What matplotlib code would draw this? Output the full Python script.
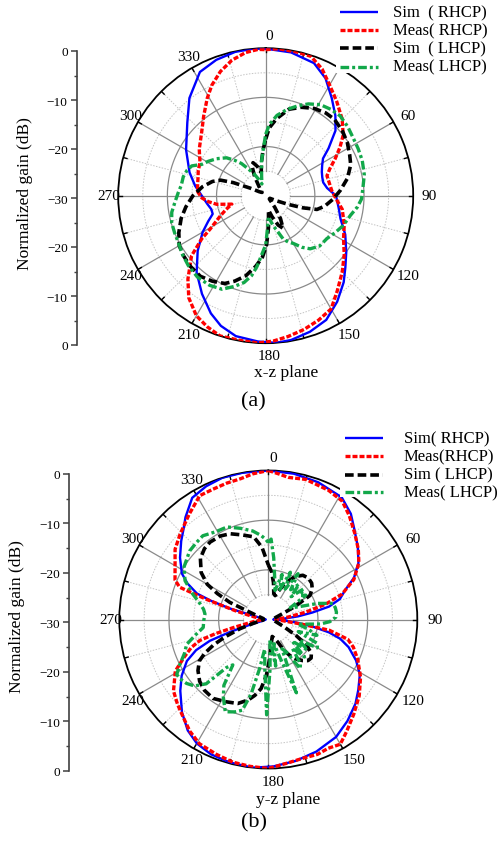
import numpy as np
import matplotlib
matplotlib.use("Agg")
import matplotlib.pyplot as plt
from matplotlib.transforms import offset_copy
from matplotlib.patches import Rectangle

plt.rcParams['font.family'] = ['Liberation Serif', 'DejaVu Serif']
plt.rcParams['axes.unicode_minus'] = True

# ---------------- data ----------------
angle_ticks = [0, 30, 60, 90, 120, 150, 180, 210, 240, 270, 300, 330]
gain_tick_pos = [0, 10, 20, 30, 40, 50, 60]
gain_tick_labels = ['0', '\u221210', '\u221220', '\u221230', '\u221220', '\u221210', '0']
legend_labels_xz = ['Sim  ( RHCP)', 'Meas( RHCP)', 'Sim  ( LHCP)', 'Meas( LHCP)']
legend_labels_yz = ['Sim( RHCP)', 'Meas(RHCP)', 'Sim ( LHCP)', 'Meas( LHCP)']
plane_labels = ['x-z plane', 'y-z plane']
panel_labels = ['(a)', '(b)']
axis_title = 'Normalized gain (dB)'

# (a) x-z plane
xz_sim_rhcp_deg = [0, 10, 20, 27, 34, 41, 47, 53, 57, 62, 67, 72, 77, 83, 90, 100, 107, 116, 125, 132,
                   138, 146, 154, 162, 170, 176, 183, 192, 199, 205, 213, 222, 231, 240, 246, 251, 256, 262, 270, 278,
                   287, 300, 313, 322, 332, 340, 348, 355]
xz_sim_rhcp_db = [-0.1, -0.4, -1.3, -3.2, -6.0, -8.4, -10.6, -14.0, -16.1, -17.0, -17.6, -17.9, -18.0, -17.4, -15.7, -14.9, -14.1, -12.0, -10.0, -8.2,
                  -6.3, -4.0, -1.9, -0.9, -0.2, 0.0, -0.3, -0.8, -2.0, -3.6, -6.2, -9.0, -12.2, -15.2, -17.2, -18.6, -18.6, -18.0, -17.0, -15.5,
                  -13.8, -11.3, -8.2, -4.8, -1.5, -0.6, -0.1, 0.0]

xz_meas_rhcp_deg = [0, 5, 12, 18, 24, 30, 37, 45, 52, 57, 62, 67, 72, 79, 86, 93, 100, 110, 119, 127,
                    135, 143, 150, 157, 164, 171, 177, 183, 190, 198, 204, 210, 217, 223, 231, 236, 239, 246, 251, 256,
                    260, 264, 268, 273, 278, 284, 290, 297, 305, 315, 322, 329, 334, 340, 346, 352, 357]
xz_meas_rhcp_db = [-0.3, 0.0, -0.1, -0.2, -1.8, -4.0, -6.0, -8.0, -10.0, -12.0, -14.0, -15.8, -16.9, -16.8, -16.5, -15.6, -14.2, -13.0, -11.9, -10.0,
                   -8.0, -5.8, -3.4, -2.5, -1.7, -1.0, -0.4, 0.0, -0.1, 0.0, -0.8, -1.8, -4.0, -6.8, -10.6, -14.3, -16.8, -19.9, -21.5, -22.9,
                   -19.9, -18.3, -17.0, -16.2, -16.0, -15.8, -15.4, -15.0, -13.5, -11.6, -9.5, -6.9, -5.0, -3.1, -1.6, -0.6, -0.2]

xz_sim_lhcp_deg = [0, 3, 8, 15, 22, 29, 36, 42, 50, 57, 64, 70, 78, 86, 93, 100, 105, 108, 111, 115,
                   122, 132, 142, 147, 152, 157, 163, 169, 175, 179, 183, 188, 194, 200, 205, 212, 219, 227, 234, 240,
                   247, 255, 262, 270, 278, 285, 289, 292, 296, 302, 312, 322, 330, 335, 339, 344, 349, 353, 357]
xz_sim_lhcp_db = [-18.5, -16.2, -14.2, -11.8, -10.6, -9.7, -9.2, -9.1, -9.6, -10.2, -11.0, -11.6, -13.0, -14.8, -16.3, -17.8, -19.2, -22.0, -25.0, -27.5,
                  -29.0, -29.0, -27.0, -24.5, -22.5, -23.5, -25.5, -27.0, -23.5, -20.0, -17.5, -15.5, -13.2, -11.5, -10.3, -9.5, -8.9, -9.0, -9.3, -9.7,
                  -10.8, -12.2, -13.6, -15.2, -17.0, -18.8, -20.3, -22.9, -26.5, -28.5, -29.0, -28.0, -25.5, -23.5, -22.8, -23.8, -25.2, -23.0, -20.5]

xz_meas_lhcp_deg = [0, 3, 8, 14, 20, 25, 31, 37, 43, 50, 57, 63, 70, 78, 86, 92, 97, 103, 111, 118,
                    125, 133, 140, 145, 150, 154, 158, 162, 166, 170, 174, 177, 180, 183, 187, 190, 194, 199, 205, 212,
                    220, 228, 235, 241, 248, 254, 260, 266, 272, 277, 283, 288, 292, 296, 301, 307, 314, 319, 323, 327,
                    332, 337, 342, 348, 353, 357]
xz_meas_lhcp_db = [-17.5, -15.5, -13.5, -11.9, -10.5, -9.4, -8.4, -8.0, -7.8, -8.2, -8.7, -8.9, -9.1, -9.5, -10.2, -10.5, -11.2, -12.3, -13.1, -14.0,
                   -14.8, -15.0, -15.9, -17.2, -18.8, -19.5, -20.5, -22.5, -23.7, -25.0, -25.2, -23.2, -20.0, -18.5, -15.5, -13.5, -11.8, -10.5, -9.0, -8.5,
                   -8.4, -8.8, -9.3, -9.8, -10.0, -10.1, -10.6, -11.5, -12.2, -12.7, -12.8, -13.2, -13.8, -15.5, -16.4, -17.5, -18.9, -20.5, -21.8, -23.5,
                   -25.0, -26.4, -27.5, -26.0, -23.0, -20.5]

# (b) y-z plane
yz_sim_rhcp_deg = [0, 10, 20, 31, 38, 44, 51, 58, 64, 69, 74, 78, 81, 84, 87, 90, 93, 96, 99, 102,
                   105, 109, 115, 121, 128, 134, 142, 150, 160, 169, 178, 186, 195, 203, 210, 216, 223, 231, 237, 243,
                   247, 250, 252, 254, 258, 270, 281, 284, 286, 288, 290, 294, 298, 305, 312, 317, 321, 328, 335, 342, 350]
yz_sim_rhcp_db = [0.0, -0.2, -0.6, -1.3, -3.0, -5.0, -6.8, -8.6, -10.8, -13.4, -15.0, -17.5, -21.0, -24.0, -27.0, -29.0, -27.0, -24.5, -21.0, -17.5,
                  -15.0, -12.9, -10.5, -8.5, -7.0, -5.6, -4.1, -2.7, -1.7, -1.0, -0.4, 0.0, -0.2, -0.5, -1.2, -2.4, -4.5, -7.2, -9.2, -11.6,
                  -14.2, -17.5, -22.0, -26.0, -29.0, -29.5, -28.5, -26.9, -22.0, -18.0, -14.7, -12.2, -10.3, -8.3, -6.4, -5.0, -3.5, -1.1, -0.4, 0.0, 0.0]

yz_meas_rhcp_deg = [0, 4, 8, 15, 25, 32, 38, 45, 52, 58, 65, 71, 75, 79, 83, 87, 91, 95, 98, 100,
                    104, 108, 114, 122, 130, 138, 145, 150, 155, 160, 166, 173, 180, 187, 194, 201, 209, 215, 221, 227,
                    233, 241, 246, 250, 253, 255, 257, 262, 270, 278, 282, 285, 288, 290, 293, 301, 307, 314, 323, 331,
                    337, 343, 349, 354]
yz_meas_rhcp_db = [0.0, -0.6, -1.1, -0.8, -1.3, -1.9, -3.5, -5.4, -7.0, -8.5, -11.0, -14.3, -18.0, -22.4, -26.0, -28.0, -28.5, -27.0, -23.0, -17.5,
                   -13.5, -12.0, -10.3, -8.1, -6.1, -4.3, -2.5, -1.0, -1.4, -1.1, -1.2, -0.8, 0.0, -0.2, -0.4, -0.9, -1.4, -2.5, -3.9, -5.0,
                   -6.1, -8.6, -11.5, -13.5, -15.6, -19.0, -22.8, -27.0, -29.0, -28.0, -26.2, -23.0, -17.0, -11.0, -9.6, -8.1, -6.5, -5.3, -3.5, -1.5,
                   -1.5, -1.3, -1.1, -0.5]

yz_sim_lhcp_deg = [0, 4, 8, 12, 16, 21, 26, 32, 38, 44, 50, 55, 60, 64, 68, 75, 90, 105, 115, 120,
                   124, 128, 132, 136, 140, 145, 149, 153, 157, 162, 167, 172, 177, 182, 186, 190, 194, 200, 207, 215,
                   222, 228, 234, 239, 242, 245, 248, 252, 256, 265, 280, 290, 294, 297, 300, 305, 312, 318, 323, 330,
                   336, 343, 350, 355, 358]
yz_sim_lhcp_db = [-19.0, -20.4, -22.5, -24.7, -25.0, -23.5, -21.6, -19.8, -18.7, -18.4, -18.6, -19.2, -20.3, -24.0, -27.0, -28.5, -29.0, -28.5, -26.5, -23.5,
                  -20.7, -19.0, -18.4, -18.5, -19.2, -20.3, -21.5, -23.0, -25.0, -26.0, -26.5, -25.4, -22.7, -18.7, -16.0, -14.5, -13.3, -12.0, -11.4, -10.6,
                  -10.8, -11.4, -12.5, -13.8, -15.5, -17.8, -20.5, -24.0, -27.0, -29.0, -29.0, -27.0, -21.5, -18.5, -15.8, -13.5, -11.6, -10.8, -10.5, -10.6,
                  -11.1, -12.2, -13.1, -15.4, -17.8]

yz_meas_lhcp_deg = [0, 2, 5, 9, 13, 17, 21, 25, 29, 33, 37, 41, 45, 49, 53, 57, 62, 67, 72, 76,
                    80, 84, 88, 92, 95, 99, 103, 108, 112, 116, 120, 124, 128, 132, 136, 140, 144, 147, 151, 155,
                    159, 163, 167, 171, 175, 178, 181, 184, 187, 190, 193, 196, 200, 205, 210, 214, 218, 221, 224, 228,
                    232, 236, 239, 243, 248, 253, 258, 263, 269, 275, 279, 283, 289, 295, 302, 311, 317, 322, 329, 336,
                    343, 350, 355, 358]
yz_meas_lhcp_db = [-14.5, -13.8, -17.5, -21.7, -24.0, -20.5, -23.5, -19.5, -23.0, -19.0, -22.5, -20.6, -23.5, -20.6, -22.0, -21.0, -25.0, -23.5, -19.5, -16.6,
                   -16.3, -16.2, -16.4, -17.6, -19.5, -24.0, -22.0, -19.7, -23.5, -19.0, -18.6, -22.5, -20.0, -23.5, -19.5, -22.5, -19.0, -18.2, -22.5, -23.5,
                   -14.2, -22.0, -25.0, -20.5, -26.0, -20.0, -10.8, -20.0, -24.0, -20.0, -14.6, -11.0, -10.2, -9.5, -11.9, -14.0, -18.4, -17.2, -12.0, -10.0,
                   -9.1, -8.6, -8.5, -10.0, -11.8, -12.8, -15.0, -16.8, -17.0, -17.2, -16.8, -15.9, -13.8, -11.5, -10.0, -9.0, -8.8, -8.6, -9.4, -9.6,
                   -10.8, -11.9, -13.0, -13.8]

# ---------------- figure ----------------
W, H = 497, 845
fig = plt.figure(figsize=(W / 100, H / 100), dpi=100)
fig.patch.set_facecolor('white')

styles = [
    dict(color='#0000ff', lw=1.7, linestyle='-'),
    dict(color='#ff0000', lw=2.4, dashes=(1.5, 0.6)),
    dict(color='#000000', lw=2.6, dashes=(2.4, 1.1)),
    dict(color='#12a84a', lw=2.4, dashes=(2.6, 0.9, 0.9, 0.9)),
]


def polar_panel(cx, cy, R, curves, xshift):
    ax = fig.add_axes([(cx - R) / W, (H - cy - R) / H, 2 * R / W, 2 * R / H], projection='polar')
    ax.set_theta_zero_location('N')
    ax.set_theta_direction(-1)
    ax.set_ylim(-30, 0)
    ax.set_xticks([])
    ax.set_yticks([])
    ax.grid(False)
    ax.spines['polar'].set_linewidth(1.3)
    ax.spines['polar'].set_color('black')
    ring_t = np.linspace(0, 2 * np.pi, 721)
    for lev in (-25, -15, -5):
        ax.plot(ring_t, np.full_like(ring_t, lev), color='#c4c4c4', lw=0.7, ls=(0, (1.5, 1.5)), zorder=1)
    for lev in (-20, -10):
        ax.plot(ring_t, np.full_like(ring_t, lev), color='#8a8a8a', lw=0.9, zorder=1)
    for a in range(0, 360, 30):
        ax.plot([np.deg2rad(a)] * 2, [-25, 0], color='#8a8a8a', lw=0.9, zorder=1)
    for a in range(15, 360, 30):
        ax.plot([np.deg2rad(a)] * 2, [-25, 0], color='#c4c4c4', lw=0.7, ls=(0, (1.5, 1.5)), zorder=1)
    for a in range(0, 360, 15):
        ax.plot([np.deg2rad(a)] * 2, [-0.8, 0], color='black', lw=1.0, zorder=2)
    for (deg, gain), st in zip(curves, styles):
        t = np.deg2rad(np.append(deg, deg[0] + 360))
        g = np.append(gain, gain[0])
        ax.plot(t, g, zorder=3, solid_capstyle='butt', dash_capstyle='butt', **st)
    tr = offset_copy(ax.transData, fig=fig, x=xshift, y=0, units='dots')
    for a in angle_ticks:
        ax.text(np.deg2rad(a), 2.6, str(a), transform=tr, ha='center', va='center', fontsize=11)
    return ax


def gain_axis(x, ytop, ybot, lab_x, lab_y):
    ax = fig.add_axes([x / W, (H - ybot) / H, 0.002, (ybot - ytop) / H])
    ax.patch.set_visible(False)
    for s in ('top', 'right', 'bottom'):
        ax.spines[s].set_visible(False)
    ax.spines['left'].set_color('#404040')
    ax.spines['left'].set_linewidth(1.2)
    ax.set_xticks([])
    ax.set_ylim(gain_tick_pos[0], gain_tick_pos[-1])
    ax.set_yticks(gain_tick_pos)
    ax.set_yticklabels(gain_tick_labels)
    ax.set_yticks(np.arange(5, 60, 10), minor=True)
    ax.tick_params(axis='y', which='major', direction='out', length=4.2, width=1.1,
                   color='#404040', labelsize=9.5, pad=2.5)
    ax.tick_params(axis='y', which='minor', direction='out', length=2.4, width=1.0, color='#404040')
    fig.text(lab_x / W, 1 - lab_y / H, axis_title, rotation=90, ha='center', va='center', fontsize=12.5)


polar_panel(265.7, 196.7, 147.5,
            [(xz_sim_rhcp_deg, xz_sim_rhcp_db), (xz_meas_rhcp_deg, xz_meas_rhcp_db),
             (xz_sim_lhcp_deg, xz_sim_lhcp_db), (xz_meas_lhcp_deg, xz_meas_lhcp_db)], 3.5)
polar_panel(268.3, 620.5, 149.0,
            [(yz_sim_rhcp_deg, yz_sim_rhcp_db), (yz_meas_rhcp_deg, yz_meas_rhcp_db),
             (yz_sim_lhcp_deg, yz_sim_lhcp_db), (yz_meas_lhcp_deg, yz_meas_lhcp_db)], 4.5)

gain_axis(77, 52, 346, 25, 194)
gain_axis(69.3, 475, 771.7, 17.5, 617)

ov = fig.add_axes([0, 0, 1, 1], zorder=10)
ov.set_xlim(0, W)
ov.set_ylim(H, 0)
ov.axis('off')
ov.patch.set_alpha(0)


def legend(x0, y0, x1, y1, lx0, lx1, tx, rows, labels):
    ov.add_patch(Rectangle((x0, y0), x1 - x0, y1 - y0, facecolor='white', edgecolor='none'))
    for y, lab, st in zip(rows, labels, styles):
        ov.plot([lx0, lx1], [y, y], solid_capstyle='butt', dash_capstyle='butt', **st)
        ov.text(tx, y, lab, ha='left', va='center', fontsize=12)


legend(336, 0, 497, 74, 340, 378, 393, [13.3, 31.0, 49.0, 67.7], legend_labels_xz)
legend(340, 428, 497, 498, 345, 383, 404, [439.3, 457.3, 475.7, 493.3], legend_labels_yz)

ov.text(286, 373.5, plane_labels[0], ha='center', va='center', fontsize=12.5)
ov.text(253, 402, panel_labels[0], ha='center', va='center', fontsize=16)
ov.text(288.5, 800, plane_labels[1], ha='center', va='center', fontsize=12.5)
ov.text(254, 823, panel_labels[1], ha='center', va='center', fontsize=16)

fig.savefig('out.png', dpi=100, facecolor='white')
